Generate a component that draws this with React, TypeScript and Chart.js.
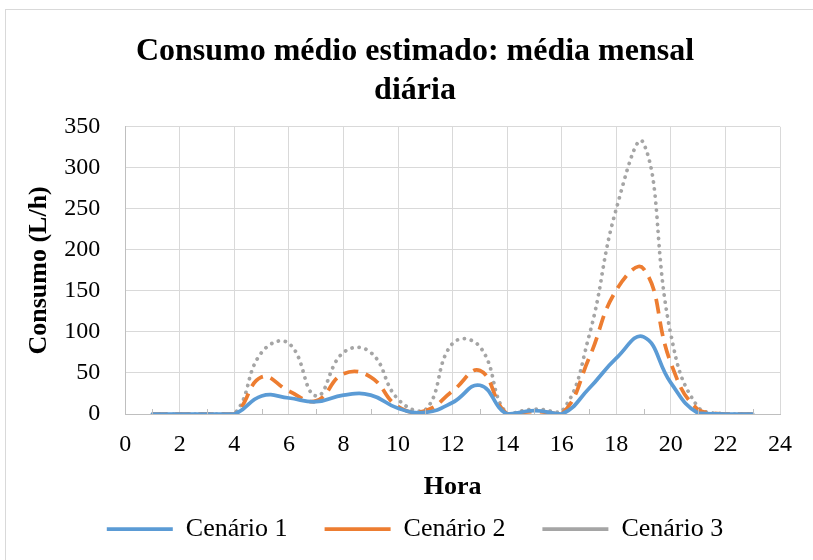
import React, { useEffect, useRef } from "react";
import { Chart, registerables } from "chart.js";

Chart.register(...registerables);

const hours = [1, 2, 3, 4, 5, 6, 7, 8, 9, 10, 11, 12, 13, 14, 15, 16, 17, 18, 19, 20, 21, 22, 23];
const cenario1 = [0, 0, 0, 0, 22, 19.5, 15, 23, 23, 7, 2, 14, 35, 0, 4, 0, 31, 68, 94, 38, 1, 0, 0];
const cenario2 = [0, 0, 0, 0, 45, 28, 16, 49, 45, 9, 4, 28, 53, 0, 3, 0, 68, 151, 177, 62, 5, 0, 0];
const cenario3 = [0, 0, 0, 0, 75, 86, 22, 75, 75, 18, 5, 86, 82, 0, 6, 3, 95, 250, 330, 97, 8, 0, 0];
const seriesNames = ["Cenário 1", "Cenário 2", "Cenário 3"];
const titleLines = ["Consumo médio estimado: média mensal", "diária"];
const xTitle = "Hora";
const yTitle = "Consumo (L/h)";

const FONT = "'Liberation Serif', 'Times New Roman', serif";

const minorTicks = {
  id: "minorTicks",
  afterDatasetsDraw(chart: any) {
    const xs = chart.scales.x;
    const ctx = chart.ctx;
    const bottom = chart.chartArea.bottom;
    ctx.save();
    ctx.strokeStyle = "#BFBFBF";
    ctx.lineWidth = 1;
    for (let v = xs.min + 1; v < xs.max; v += 2) {
      const px = Math.round(xs.getPixelForValue(v)) + 0.5;
      ctx.beginPath();
      ctx.moveTo(px, bottom - 5);
      ctx.lineTo(px, bottom);
      ctx.stroke();
    }
    ctx.restore();
  },
};

export default function App() {
  const ref = useRef<HTMLCanvasElement>(null);
  useEffect(() => {
    if (!ref.current) return;
    const mk = (vals: number[]) => hours.map((h, i) => ({ x: h, y: vals[i] }));
    const chart = new Chart(ref.current, {
      type: "line",
      data: {
        datasets: [
          {
            label: seriesNames[0],
            data: mk(cenario1),
            borderColor: "#5B9BD5",
            backgroundColor: "#5B9BD5",
            borderWidth: 3.75,
            pointRadius: 0,
            tension: 0.45,
            borderCapStyle: "round",
          },
          {
            label: seriesNames[1],
            data: mk(cenario2),
            borderColor: "#ED7D31",
            backgroundColor: "#ED7D31",
            borderWidth: 3.75,
            borderDash: [15, 8],
            pointRadius: 0,
            tension: 0.45,
            borderCapStyle: "butt",
          },
          {
            label: seriesNames[2],
            data: mk(cenario3),
            borderColor: "#A5A5A5",
            backgroundColor: "#A5A5A5",
            borderWidth: 3.75,
            borderDash: [0.1, 7],
            pointRadius: 0,
            tension: 0.45,
            borderCapStyle: "round",
          },
        ],
      },
      options: {
        animation: false,
        responsive: false,
        maintainAspectRatio: false,
        layout: { padding: { left: 22, right: 5, top: 33, bottom: 8 } },
        plugins: {
          title: {
            display: true,
            text: titleLines,
            color: "#000",
            font: { family: FONT, size: 32, weight: "bold", lineHeight: 1.2 },
            padding: { top: 0, bottom: 17 },
          },
          legend: {
            position: "bottom",
            labels: {
              usePointStyle: true,
              pointStyle: "line",
              pointStyleWidth: 66,
              color: "#000",
              font: { family: FONT, size: 26 },
              padding: 37,
            },
          },
          tooltip: { enabled: false },
        },
        scales: {
          x: {
            type: "linear",
            min: 0,
            max: 24,
            ticks: { stepSize: 2, color: "#000", font: { family: FONT, size: 24 }, padding: 16 },
            grid: { color: "#D9D9D9", drawTicks: false, lineWidth: 1 },
            border: { color: "#BFBFBF", width: 1 },
            title: {
              display: true,
              text: xTitle,
              color: "#000",
              font: { family: FONT, size: 26, weight: "bold" },
              padding: { top: -3, bottom: -24 },
            },
          },
          y: {
            min: 0,
            max: 350,
            ticks: { stepSize: 50, color: "#000", font: { family: FONT, size: 24 }, padding: 25 },
            grid: { color: "#D9D9D9", drawTicks: false, lineWidth: 1 },
            border: { color: "#BFBFBF", width: 1 },
            title: {
              display: true,
              text: yTitle,
              color: "#000",
              font: { family: FONT, size: 26, weight: "bold" },
              padding: { top: 2, bottom: -16 },
            },
          },
          y2: {
            position: "right",
            display: true,
            grid: { display: false, drawTicks: false },
            border: { display: false },
            ticks: { display: false },
            afterFit: (scale: any) => {
              scale.width = 28;
            },
          },
        },
      },
      plugins: [minorTicks],
    });
    return () => chart.destroy();
  }, []);
  return (
    <div style={{ position: "fixed", left: 0, top: 0, width: 813, height: 560, background: "#fff", overflow: "hidden" }}>
      <div
        style={{
          position: "absolute",
          left: 5,
          top: 9,
          width: 900,
          height: 700,
          border: "1px solid #D9D9D9",
          boxSizing: "border-box",
        }}
      />
      <canvas ref={ref} width={813} height={560} style={{ position: "absolute", left: 0, top: 0, display: "block" }} />
    </div>
  );
}
